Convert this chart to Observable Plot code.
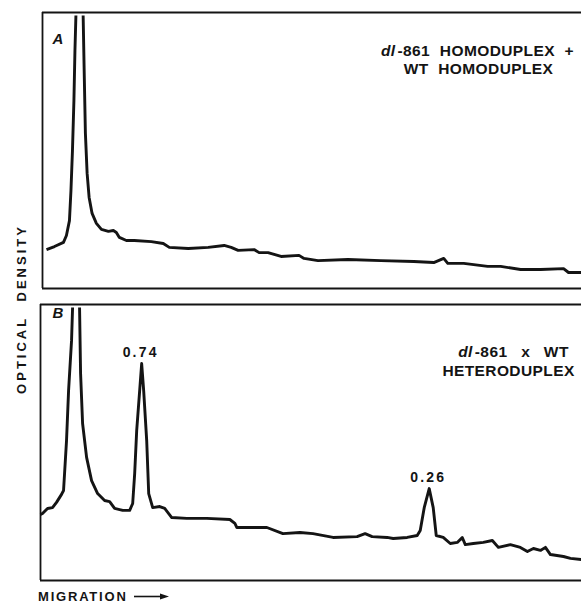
<!DOCTYPE html>
<html>
<head>
<meta charset="utf-8">
<script src="https://cdn.jsdelivr.net/npm/d3@7"></script>
<script src="https://cdn.jsdelivr.net/npm/@observablehq/plot@0.6"></script>
<style>
  html, body { margin: 0; padding: 0; background: #fff; }
  #fig { position: relative; width: 581px; height: 606px; overflow: hidden; background: #fff; }
  #fig > svg { position: absolute; left: 0; }
</style>
</head>
<body>
<div id="fig"></div>
<script>
// ---- Data (migration in % of scan length, optical density in relative units) ----
const panelNames = ["A", "B"];
const titlesA = ["dl-861 HOMODUPLEX +", "WT HOMODUPLEX"];
const titlesB = ["dl-861 x WT", "HETERODUPLEX"];
const yLabel = "OPTICAL DENSITY";
const xLabel = "MIGRATION";

// Panel A trace (null = pen off scale at the main peak)
const migrationA = [0.74, 2.22, 3.89, 4.44, 5.0, 5.28, 5.56, 5.83, 6.02, 6.20, 6.9, 7.54, 7.72, 7.96, 8.28, 8.65, 9.20, 10.0, 10.93, 12.22, 13.15, 13.70, 14.26, 15.56, 17.04, 20.19, 22.41, 23.52, 27.04, 30.74, 33.70, 35.0, 36.30, 39.26, 40.19, 41.85, 44.26, 47.59, 48.52, 51.11, 56.67, 62.78, 68.89, 72.59, 74.44, 75.19, 78.15, 82.59, 85.0, 88.70, 92.41, 96.67, 97.59, 100];
const densityA = [0.141, 0.152, 0.167, 0.192, 0.246, 0.355, 0.500, 0.681, 0.862, 0.989, null, 0.989, 0.801, 0.562, 0.417, 0.330, 0.272, 0.236, 0.214, 0.207, 0.210, 0.203, 0.185, 0.174, 0.174, 0.170, 0.163, 0.149, 0.145, 0.149, 0.156, 0.149, 0.138, 0.141, 0.130, 0.130, 0.116, 0.120, 0.109, 0.101, 0.105, 0.101, 0.098, 0.094, 0.109, 0.091, 0.091, 0.080, 0.080, 0.069, 0.069, 0.072, 0.058, 0.058];

// Panel B trace
const migrationB = [0, 0.37, 1.30, 2.22, 2.96, 3.89, 4.26, 4.81, 5.19, 5.74, 5.93, 6.6, 7.22, 7.41, 7.78, 8.52, 9.44, 10.56, 11.85, 12.78, 13.70, 15.19, 16.48, 17.04, 17.41, 17.78, 18.33, 18.70, 19.07, 19.63, 20.0, 20.74, 22.04, 22.96, 24.26, 27.04, 30.74, 35.0, 35.93, 36.30, 38.70, 41.85, 44.81, 47.96, 50.37, 54.07, 58.52, 60.0, 61.30, 64.07, 65.19, 67.78, 69.63, 70.19, 70.93, 71.85, 72.59, 73.15, 74.44, 75.74, 77.04, 77.96, 78.52, 80.0, 81.85, 83.52, 84.63, 86.85, 88.70, 90.0, 91.11, 92.41, 93.33, 94.26, 96.67, 97.96, 100];
const densityB = [0.239, 0.243, 0.261, 0.264, 0.283, 0.312, 0.326, 0.507, 0.688, 0.870, 0.989, null, 0.989, 0.750, 0.569, 0.446, 0.362, 0.315, 0.290, 0.286, 0.261, 0.254, 0.254, 0.279, 0.388, 0.543, 0.688, 0.786, 0.688, 0.507, 0.315, 0.264, 0.268, 0.261, 0.228, 0.225, 0.225, 0.221, 0.207, 0.192, 0.192, 0.192, 0.170, 0.174, 0.170, 0.156, 0.159, 0.170, 0.159, 0.156, 0.152, 0.156, 0.163, 0.181, 0.264, 0.333, 0.264, 0.163, 0.156, 0.134, 0.138, 0.156, 0.130, 0.134, 0.138, 0.145, 0.120, 0.130, 0.120, 0.105, 0.116, 0.109, 0.120, 0.094, 0.087, 0.080, 0.076];

// Heteroduplex peak annotations (panel B)
const peakLabels = ["0.74", "0.26"];
const peakMigration = [18.70, 71.85];
const peakDensity = [0.786, 0.333];

// ---- Build ----
const INK = "#141414";
const FONT = "'Liberation Sans', Arial, Helvetica, sans-serif";

const traceA = migrationA.map((m, i) => ({migration: m, density: densityA[i]}));
const traceB = migrationB.map((m, i) => ({migration: m, density: densityB[i]}));
const peaks = peakLabels.map((label, i) => ({label, migration: peakMigration[i], density: peakDensity[i]}));

function panel({trace, marginLeft, name, nameDx, nameDy, titles, titleDx, titleDy, extra = []}) {
  return Plot.plot({
    width: 581,
    height: 296,
    marginTop: 12,
    marginBottom: 8,
    marginLeft,
    marginRight: 0,
    x: {domain: [0, 100], axis: null},
    y: {domain: [0, 1], axis: null},
    style: {background: "transparent", overflow: "visible", fontFamily: FONT, color: INK},
    marks: [
      Plot.ruleX([0], {stroke: INK, strokeWidth: 1.8}),
      Plot.ruleY([0, 1], {stroke: INK, strokeWidth: 1.8}),
      Plot.line(trace, {x: "migration", y: "density", stroke: INK, strokeWidth: 2.9, strokeLinejoin: "round", strokeLinecap: "butt"}),
      Plot.text([name], {text: d => d, frameAnchor: "top-left", dx: nameDx, dy: nameDy, lineAnchor: "bottom", textAnchor: "start", fontSize: 15, fontWeight: "bold", fontStyle: "italic", fill: INK}),
      ...titles.map((t, i) => Plot.text([t], {text: d => d, frameAnchor: "top-right", dx: titleDx[i], dy: titleDy[i], lineAnchor: "bottom", textAnchor: "middle", fontSize: 15.5, fontWeight: "bold", fill: INK})),
      ...extra
    ]
  });
}

const plotA = panel({
  trace: traceA, marginLeft: 42, name: panelNames[0], nameDx: 10, nameDy: 31,
  titles: titlesA, titleDx: [-104, -103], titleDy: [43, 61]
});

const plotB = panel({
  trace: traceB, marginLeft: 40, name: panelNames[1], nameDx: 12, nameDy: 13,
  titles: titlesB, titleDx: [-68, -73], titleDy: [52, 71],
  extra: [
    Plot.text(peaks, {x: "migration", y: "density", text: "label", dy: -7, dx: -1, lineAnchor: "bottom", textAnchor: "middle", fontSize: 14, fontWeight: "bold", fill: INK})
  ]
});

function styleTexts(svg) {
  d3.select(svg).selectAll("text").each(function() {
    const t = this.textContent;
    const s = d3.select(this);
    if (/^(dl|WT|HETERO)/.test(t)) {
      s.attr("letter-spacing", 0.4).attr("word-spacing", t === "dl-861 x WT" ? 9 : 5);
      if (t.startsWith("dl")) {
        const rest = t.slice(2);
        s.text(null);
        s.append("tspan").attr("font-style", "italic").text("dl");
        s.append("tspan").attr("dx", 2).text(rest);
      }
    } else if (/^\d/.test(t)) {
      s.attr("letter-spacing", 2.2);
    }
  });
}
styleTexts(plotA);
styleTexts(plotB);

const fig = document.getElementById("fig");
d3.select(plotA).style("top", "0px");
d3.select(plotB).style("top", "292px");
fig.appendChild(plotA);
fig.appendChild(plotB);

// Axis labels (shared by both panels)
const over = d3.create("svg")
  .attr("width", 581).attr("height", 606)
  .style("top", "0px")
  .attr("font-family", FONT).attr("font-weight", "bold").attr("fill", INK);
over.append("text")
  .attr("transform", "translate(26,309) rotate(-90)")
  .attr("text-anchor", "middle")
  .attr("font-size", 13)
  .attr("letter-spacing", 3)
  .attr("word-spacing", 8)
  .text(yLabel);
over.append("text")
  .attr("x", 38).attr("y", 601)
  .attr("font-size", 13)
  .attr("letter-spacing", 1.8)
  .text(xLabel);
over.append("line")
  .attr("x1", 134).attr("x2", 162).attr("y1", 596.5).attr("y2", 596.5)
  .attr("stroke", INK).attr("stroke-width", 1.6);
over.append("path")
  .attr("d", "M160,593.5 L169,596.5 L160,599.5 Z")
  .attr("fill", INK);
fig.appendChild(over.node());
</script>
</body>
</html>
